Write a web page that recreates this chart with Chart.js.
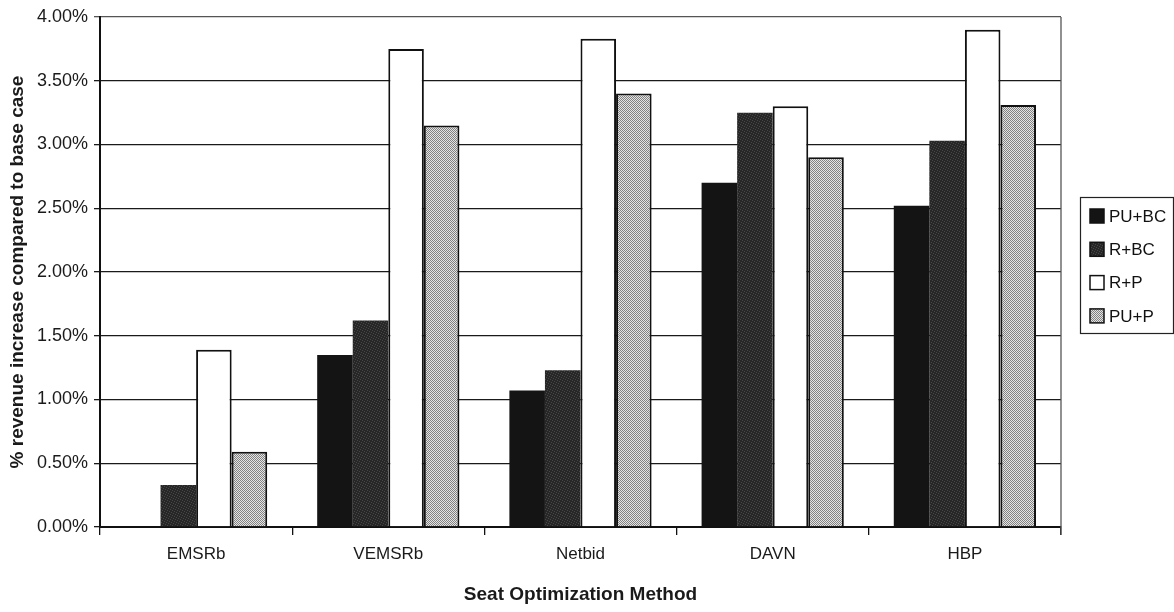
<!DOCTYPE html>
<html>
<head>
<meta charset="utf-8">
<script src="https://cdn.jsdelivr.net/npm/chart.js@4.4.1/dist/chart.umd.min.js"></script>
<style>
  html, body { margin: 0; padding: 0; background: #fff; }
  #wrap { width: 1174px; height: 612px; }
</style>
</head>
<body>
<div id="wrap"><canvas id="c" width="1174" height="612"></canvas></div>
<script>
// Seat optimization methods (categories)
const methods = ['EMSRb', 'VEMSRb', 'Netbid', 'DAVN', 'HBP'];
// Series names
const seriesNames = ['PU+BC', 'R+BC', 'R+P', 'PU+P'];
// % revenue increase compared to base case, per method
const puBc = [0.00, 1.35, 1.07, 2.70, 2.52];
const rBc  = [0.33, 1.62, 1.23, 3.25, 3.03];
const rP   = [1.39, 3.75, 3.83, 3.30, 3.90];
const puP  = [0.59, 3.15, 3.40, 2.90, 3.31];
// Value axis range and step
const yMin = 0, yMax = 4, yStep = 0.5;

const canvas = document.getElementById('c');
const ctx = canvas.getContext('2d');

// small repeating fills that imitate printed halftone shading
function makePattern(cells) {
  const n = cells.length;
  const pc = document.createElement('canvas');
  pc.width = n; pc.height = n;
  const g = pc.getContext('2d');
  for (let y = 0; y < n; y++) {
    for (let x = 0; x < n; x++) {
      g.fillStyle = cells[y][x];
      g.fillRect(x, y, 1, 1);
    }
  }
  return ctx.createPattern(pc, 'repeat');
}
const D = '#272727', d = '#474747';
const darkFill = makePattern([
  [D, D, d, D, D],
  [D, D, D, D, d],
  [D, d, D, D, D],
  [D, D, D, d, D],
  [d, D, D, D, D]
]);
const L = '#e4e4e4', l = '#828282';
const lightFill = makePattern([
  [l, L],
  [L, l]
]);

const fills = ['#141414', darkFill, '#ffffff', lightFill];
const borders = ['#111', '#222', '#111', '#111'];
const values = [puBc, rBc, rP, puP];

const datasets = seriesNames.map((name, i) => ({
  label: name,
  data: values[i],
  backgroundColor: fills[i],
  borderColor: borders[i],
  borderWidth: i >= 2 ? 2 : 0,
  categoryPercentage: 0.74,
  barPercentage: 1.0
}));

const FONT = "'Liberation Sans', Arial, Helvetica, sans-serif";

// boxed legend to the right of the plot area
const boxLegend = {
  id: 'boxLegend',
  afterDraw(chart) {
    const c = chart.ctx;
    const x0 = 1080, y0 = 197, w = 93, h = 136;
    c.save();
    c.strokeStyle = '#222';
    c.lineWidth = 1.2;
    c.strokeRect(x0 + 0.5, y0 + 0.5, w, h);
    c.font = '17px ' + FONT;
    c.textBaseline = 'middle';
    chart.data.datasets.forEach((ds, i) => {
      const cy = 216 + i * 33.3;
      c.fillStyle = ds.backgroundColor;
      c.fillRect(x0 + 10, cy - 7, 14, 14);
      c.strokeStyle = '#111';
      c.lineWidth = 1.5;
      c.strokeRect(x0 + 10, cy - 7, 14, 14);
      c.fillStyle = '#111';
      c.fillText(ds.label, x0 + 29, cy + 1);
    });
    c.restore();
  }
};

// right-hand frame line of the plot area
const plotFrame = {
  id: 'plotFrame',
  afterDatasetsDraw(chart) {
    const a = chart.chartArea;
    const c = chart.ctx;
    c.save();
    c.strokeStyle = '#555';
    c.lineWidth = 1.3;
    c.beginPath();
    c.moveTo(a.right, a.top);
    c.lineTo(a.right, a.bottom + 8);
    c.stroke();
    c.restore();
  }
};

new Chart(canvas, {
  type: 'bar',
  data: { labels: methods, datasets },
  options: {
    responsive: false,
    animation: false,
    devicePixelRatio: 1,
    layout: { padding: { top: 17, right: 113, bottom: 0, left: 0 } },
    plugins: {
      legend: { display: false },
      tooltip: { enabled: false }
    },
    scales: {
      x: {
        offset: true,
        afterFit(s) { s.height = 85; },
        grid: {
          offset: true,
          drawOnChartArea: false,
          drawTicks: true,
          tickLength: 8,
          color: '#111',
          lineWidth: 1.3
        },
        border: { display: true, color: '#111', width: 2 },
        ticks: {
          color: '#1a1a1a',
          font: { family: FONT, size: 17 },
          padding: 9,
          maxRotation: 0
        },
        title: {
          display: true,
          text: 'Seat Optimization Method',
          color: '#1a1a1a',
          font: { family: FONT, size: 19, weight: 'bold' },
          padding: { top: 0, bottom: 6 }
        }
      },
      y: {
        min: yMin,
        max: yMax,
        afterFit(s) { s.width = 100; },
        grid: {
          color: (c) => (c.tick && c.tick.value === yMax ? '#555' : '#1a1a1a'),
          lineWidth: 1.3,
          drawTicks: true,
          tickLength: 6
        },
        border: { display: true, color: '#111', width: 2 },
        ticks: {
          stepSize: yStep,
          color: '#1a1a1a',
          font: { family: FONT, size: 18 },
          padding: 6,
          callback: (v) => v.toFixed(2) + '%'
        },
        title: {
          display: true,
          text: '% revenue increase compared to base case',
          color: '#1a1a1a',
          font: { family: FONT, size: 19, weight: 'bold' },
          padding: { top: 6, bottom: 4 }
        }
      }
    }
  },
  plugins: [boxLegend, plotFrame]
});
</script>
</body>
</html>
